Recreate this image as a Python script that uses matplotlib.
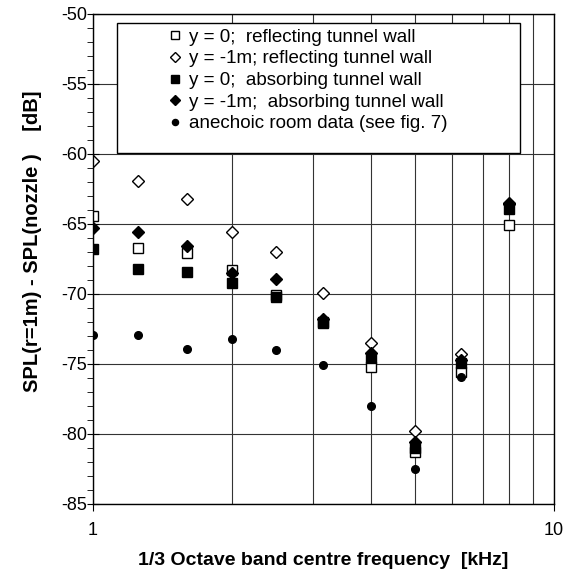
import matplotlib
matplotlib.use("Agg")
import matplotlib.pyplot as plt
from matplotlib.patches import Rectangle
from matplotlib.ticker import FixedLocator, NullFormatter, MultipleLocator

plt.rcParams['font.family'] = ['Liberation Sans', 'DejaVu Sans']
plt.rcParams['axes.unicode_minus'] = False

freq = [1, 1.25, 1.6, 2, 2.5, 3.15, 4, 5, 6.3, 8]
refl_y0 = [-64.4, -66.7, -67.1, -68.3, -70.1, -72.0, -75.2, -81.3, -75.6, -65.1]
refl_y1 = [-60.5, -61.9, -63.2, -65.6, -67.0, -69.9, -73.5, -79.8, -74.3, -63.5]
abs_y0 = [-66.8, -68.2, -68.4, -69.2, -70.2, -72.1, -74.6, -81.0, -74.9, -63.9]
abs_y1 = [-65.3, -65.6, -66.6, -68.5, -68.9, -71.8, -74.2, -80.6, -74.7, -63.6]
anech_f = [1, 1.25, 1.6, 2, 2.5, 3.15, 4, 5, 6.3]
anech = [-72.9, -72.9, -73.9, -73.2, -74.0, -75.1, -78.0, -82.5, -75.9]

labels = ["y = 0;  reflecting tunnel wall",
          "y = -1m; reflecting tunnel wall",
          "y = 0;  absorbing tunnel wall",
          "y = -1m;  absorbing tunnel wall",
          "anechoic room data (see fig. 7)"]

fig = plt.figure(figsize=(5.7, 5.75), dpi=100)
ax = fig.add_axes([93/570, 1 - 504/575, (554-93)/570, (504-14)/575])

ax.set_xscale('log')
ax.set_xlim(1, 10)
ax.set_ylim(-85, -50)

h1, = ax.plot(freq, refl_y0, ls='none', marker='s', ms=7.2, mfc='white', mec='black', mew=1.0)
h2, = ax.plot(freq, refl_y1, ls='none', marker='D', ms=6.5, mfc='white', mec='black', mew=1.0)
h3, = ax.plot(freq, abs_y0, ls='none', marker='s', ms=7.2, mfc='black', mec='black')
h4, = ax.plot(freq, abs_y1, ls='none', marker='D', ms=6.5, mfc='black', mec='black')
h5, = ax.plot(anech_f, anech, ls='none', marker='o', ms=5.5, mfc='black', mec='black')

# grid
ax.xaxis.set_major_locator(FixedLocator([1, 10]))
ax.xaxis.set_minor_locator(FixedLocator([2, 3, 4, 5, 6, 7, 8, 9]))
ax.xaxis.set_minor_formatter(NullFormatter())
ax.set_xticklabels(['1', '10'])
ax.yaxis.set_major_locator(MultipleLocator(5))
ax.yaxis.set_minor_locator(MultipleLocator(1))
ax.grid(True, which='major', axis='y', color='#333333', lw=0.8)
ax.grid(True, which='both', axis='x', color='#333333', lw=0.8)
ax.set_axisbelow(True)
ax.tick_params(axis='x', which='minor', length=0)
ax.tick_params(axis='x', which='major', direction='out', length=5, pad=8, labelsize=13)
ax.tick_params(axis='y', which='major', direction='inout', length=8, labelsize=13, pad=0)
ax.tick_params(axis='y', which='minor', direction='out', length=4)
for s in ax.spines.values():
    s.set_linewidth(1.0)

ax.set_xlabel('1/3 Octave band centre frequency  [kHz]', fontsize=14, fontweight='bold', labelpad=9)
ax.set_ylabel('SPL(r=1m) - SPL(nozzle )    [dB]', fontsize=14.5, fontweight='bold')
ax.yaxis.set_label_coords(-0.11, 0.537)

# legend box
x0 = (117 - 93) / 461
x1 = (520 - 93) / 461
y0 = 1 - (153 - 14) / 490
y1 = 1 - (23 - 14) / 490
rect = Rectangle((x0, y0), x1 - x0, y1 - y0, transform=ax.transAxes,
                 facecolor='white', edgecolor='black', lw=1.0, zorder=5)
ax.add_patch(rect)
leg = ax.legend([h1, h2, h3, h4, h5], labels, loc='upper left',
                bbox_to_anchor=((169 - 93) / 461, 1 - (28.5 - 14) / 490),
                frameon=False, fontsize=13.5, handlelength=0.6, handletextpad=0.45,
                labelspacing=0.245, markerscale=0.8, borderpad=0, borderaxespad=0)
leg.set_zorder(6)

fig.savefig('out.png', dpi=100)
